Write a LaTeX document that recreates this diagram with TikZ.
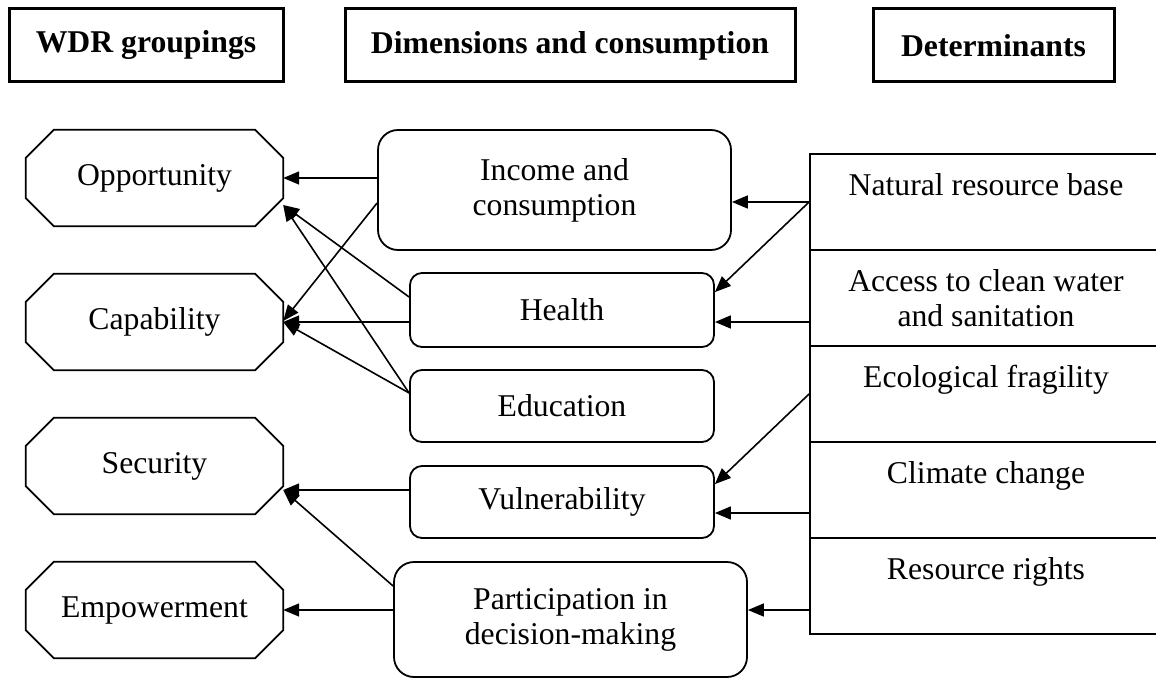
\documentclass[tikz,border=0pt]{standalone}
\usepackage{fontspec}
\setmainfont{Liberation Serif}
\usetikzlibrary{arrows.meta}
\begin{document}
\begin{tikzpicture}[x=1pt,y=-1pt,
  every node/.style={font=\fontsize{31.7}{35}\selectfont, inner sep=0pt, align=center},
  header/.style={draw, line width=3pt, font=\fontsize{31.7}{35}\selectfont\bfseries},
  octo/.style={minimum width=257pt, minimum height=96pt},
  dimbox/.style={draw, line width=1.8pt, rounded corners=12pt},
  bigbox/.style={draw, line width=1.8pt, rounded corners=20pt},
  detbox/.style={draw, line width=1.8pt, minimum width=352pt, minimum height=96pt},
  conn/.style={line width=1.6pt, -{Triangle[length=16pt,width=13pt]}}
]
\useasboundingbox (0,0) rectangle (1156,679);

% headers
\node[header, minimum width=274pt, minimum height=73pt] (h1) at (146,45.5) {WDR groupings};
\node[header, minimum width=450pt, minimum height=73pt] (h2) at (570,45.5) {Dimensions and consumption};
\node[header, minimum width=241pt, minimum height=73pt] (h3) at (993.5,45.5) {Determinants};

% WDR groupings (octagons)
\node[octo] (opp) at (154.5,178) {Opportunity};
\node[octo] (cap) at (154.5,322) {Capability};
\node[octo] (sec) at (154.5,466) {Security};
\node[octo] (emp) at (154.5,610) {Empowerment};
\foreach \n in {opp,cap,sec,emp}
  \draw[line width=1.8pt] ([xshift=28pt]\n.north west) -- ([xshift=-28pt]\n.north east)
    -- ([yshift=-28pt]\n.north east) -- ([yshift=28pt]\n.south east)
    -- ([xshift=-28pt]\n.south east) -- ([xshift=28pt]\n.south west)
    -- ([yshift=28pt]\n.south west) -- ([yshift=-28pt]\n.north west) -- cycle;

% dimensions
\node[bigbox, minimum width=353pt, minimum height=120pt] (inc) at (554.5,190) {Income and\\consumption};
\node[dimbox, minimum width=304pt, minimum height=74pt] (hea) at (562,310) {Health};
\node[dimbox, minimum width=304pt, minimum height=72pt] (edu) at (562,406) {Education};
\node[dimbox, minimum width=304pt, minimum height=72pt] (vul) at (562,502) {Vulnerability};
\node[bigbox, minimum width=353pt, minimum height=115pt] (par) at (570.5,619.5) {Participation in\\decision-making};

% determinants
\node[detbox] (nat) at (986,202) {Natural resource base\\~};
\node[detbox] (acc) at (986,298) {Access to clean water\\and sanitation};
\node[detbox] (eco) at (986,394) {Ecological fragility\\~};
\node[detbox] (cli) at (986,490) {Climate change\\~};
\node[detbox] (res) at (986,586) {Resource rights\\~};

% connector end points
\coordinate (accout) at ([yshift=-24pt]acc.west);
\coordinate (cliout) at ([yshift=-23pt]cli.west);
\coordinate (resout) at ([yshift=-24pt]res.west);

% right-side connectors
\draw[conn] (nat.west) -- (inc.east |- nat.west);
\draw[conn] (nat.west) -- ([yshift=-20pt]hea.north east);
\draw[conn] (accout) -- (hea.east |- accout);
\draw[conn] (eco.west) -- ([yshift=-19pt]vul.north east);
\draw[conn] (cliout) -- (vul.east |- cliout);
\draw[conn] (resout) -- (par.east |- resout);

% left-side connectors
\draw[conn] ([yshift=12pt]inc.west) -- (opp.east);
\draw[conn] ([yshift=-13pt]inc.west) -- ([yshift=1pt]cap.east);
\draw[conn] ([yshift=13pt]hea.west) -- ([yshift=-27pt]opp.east);
\draw[conn] ([yshift=-12pt]hea.west) -- (cap.east);
\draw[conn] ([yshift=13pt]edu.west) -- ([yshift=-27pt]opp.east);
\draw[conn] ([yshift=13pt]edu.west) -- (cap.east);
\draw[conn] ([yshift=12pt]vul.west) -- ([yshift=-24pt]sec.east);
\draw[conn] ([yshift=33.5pt]par.west) -- ([yshift=-24pt]sec.east);
\draw[conn] ([yshift=9.5pt]par.west) -- (emp.east);
\end{tikzpicture}
\end{document}
